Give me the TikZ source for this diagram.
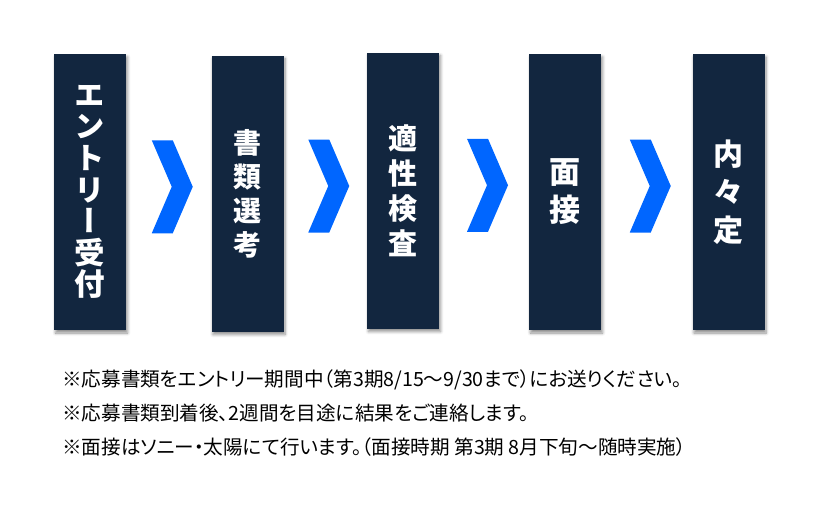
\documentclass[tikz,border=0pt]{standalone}
\usepackage{fontspec}
\setmainfont{Noto Sans CJK JP}
\newfontfamily\stepfont{Noto Sans CJK JP}[RawFeature={+vert}]
\newfontfamily\notefont{Noto Sans CJK JP}[RawFeature={+palt}]
\usetikzlibrary{shadows.blur, calc}
\definecolor{navy}{HTML}{12263F}
\definecolor{chevblue}{HTML}{0066FF}

\begin{document}
\begin{tikzpicture}[x=1pt, y=-1pt,
	stepbox/.style={
		fill=navy, text=white, inner sep=0pt, align=center,
		minimum width=72pt, minimum height=276pt,
		blur shadow={shadow xshift=1.5pt, shadow yshift=-3pt,
			shadow blur radius=3pt, shadow blur steps=6, shadow opacity=45},
	},
	chevron/.style={fill=chevblue},
	note/.style={anchor=west, inner sep=0pt, font=\notefont\fontsize{19.6}{19.6}\selectfont},
	]
	\useasboundingbox (0,0) rectangle (833,504);
	% steps
	\node[stepbox, font=\stepfont\bfseries\fontsize{30.5}{31.6}\selectfont]
		(entry) at (90,192) {エ\\ン\\ト\\リ\\ー\\受\\付};
	\node[stepbox, font=\stepfont\bfseries\fontsize{28}{34}\selectfont]
		(docs) at (247.5,193.5) {書\\類\\選\\考};
	\node[stepbox, font=\stepfont\bfseries\fontsize{29}{35}\selectfont]
		(test) at (403,190.5) {適\\性\\検\\査};
	\node[stepbox, font=\stepfont\bfseries\fontsize{31}{38}\selectfont]
		(interview) at (565,192) {面\\接};
	\node[stepbox, font=\stepfont\bfseries\fontsize{30}{38}\selectfont]
		(offer) at (728.5,192) {内\\々\\定};
	% chevrons between the steps
	\foreach \a/\b [count=\i] in {entry/docs, docs/test, test/interview, interview/offer} {
		\path ($(\a.east)!.5!(\b.west)$) ++(3.5,-6) coordinate (chev\i);
		\fill[chevron, shift={(chev\i)}]
			(-20.5,-46.5) -- ++(21,0) -- ++(20,46.5) -- ++(-20,46.5)
			-- ++(-21,0) -- ++(20,-46.5) -- cycle;
	}
	% notes
	\node[note] (note1) at (62,380) {※応募書類をエントリー期間中（第3期8/15～9/30まで）にお送りください。};
	\node[note] (note2) at (62,413) {※応募書類到着後、2週間を目途に結果をご連絡します。};
	\node[note] (note3) at (62,447) {※面接はソニー・太陽にて行います。（面接時期 第3期 8月下旬～随時実施）};
\end{tikzpicture}
\end{document}
